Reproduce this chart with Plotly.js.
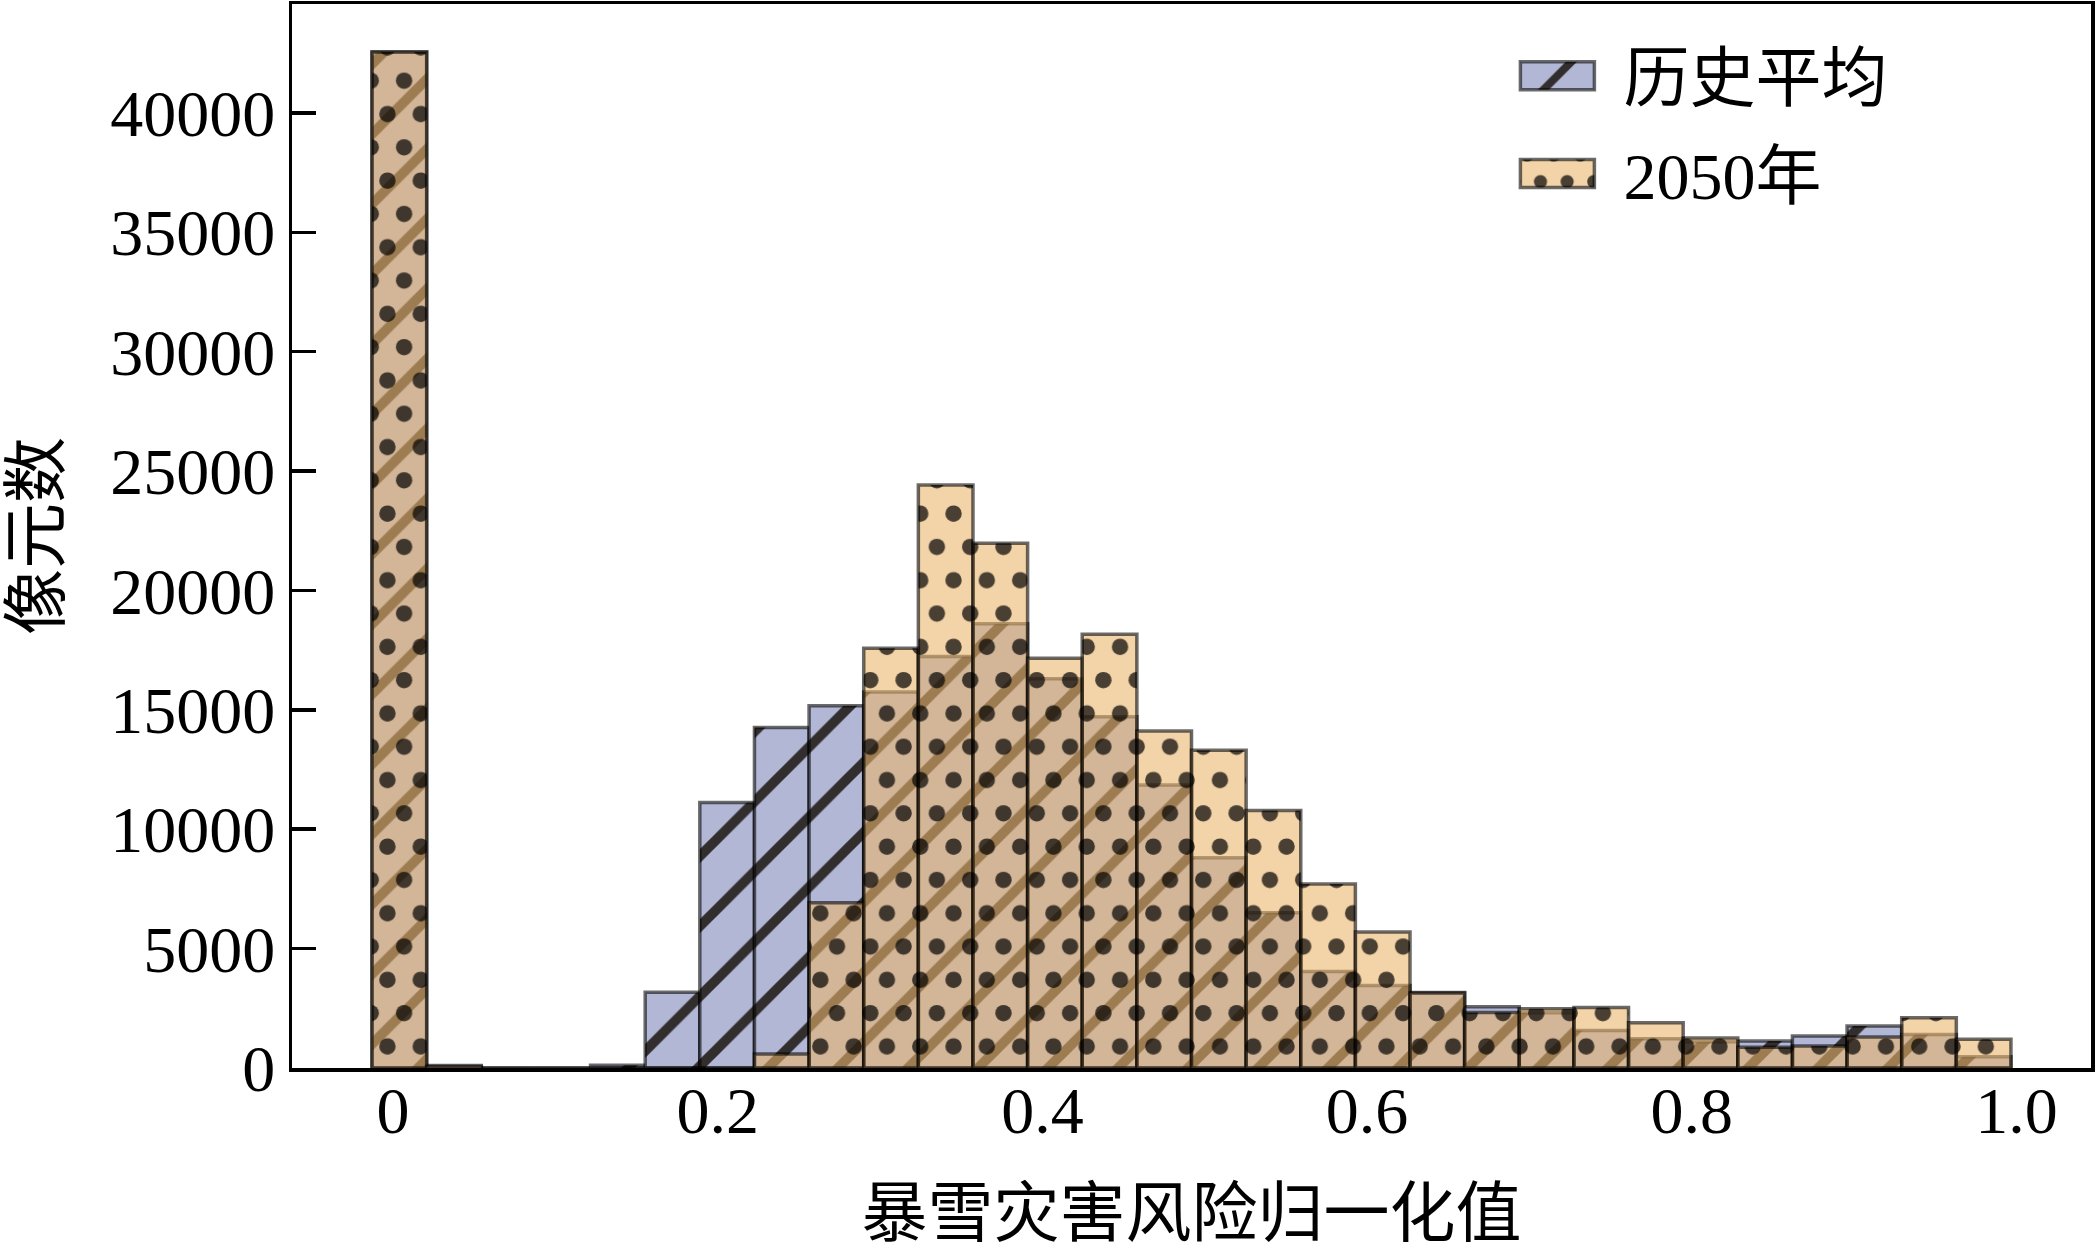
<!DOCTYPE html>
<html>
<head>
<meta charset="utf-8">
<script src="https://cdn.plot.ly/plotly-3.0.1.min.js"></script>
<style>
html,body{margin:0;padding:0;background:#fff;}
#chart{width:2097px;height:1250px;}
</style>
</head>
<body>
<div id="chart"></div>
<script>
// ---- data ----
const seriesNames = ['历史平均', '2050年'];
const binStart = -0.0129;      // left edge of first bin (axis units)
const binWidth = 0.03365;      // width of every bin
const histCounts = [42550, 100, 0, 0, 120, 3170, 11120, 14260, 15170, 15750,
                    17230, 18600, 16300, 14710, 11850, 8800, 6500, 4040, 3450, 3160,
                    2560, 2310, 1570, 1230, 1100, 1130, 1340, 1760, 1400, 475];
const futureCounts = [42550, 60, 0, 0, 0, 0, 0, 590, 6920, 17580,
                      24420, 21980, 17160, 18170, 14110, 13310, 10780, 7710, 5700, 3140,
                      2320, 2480, 2530, 1900, 1260, 870, 920, 1300, 2100, 1200];
const xTickVals = [0, 0.2, 0.4, 0.6, 0.8, 1.0];
const xTickText = ['0', '0.2', '0.4', '0.6', '0.8', '1.0'];
const yTickVals = [0, 5000, 10000, 15000, 20000, 25000, 30000, 35000, 40000];
const yTickText = ['0', '5000', '10000', '15000', '20000', '25000', '30000', '35000', '40000'];
const xTitle = '暴雪灾害风险归一化值';
const yTitle = '像元数';

const binCenters = histCounts.map((_, i) => binStart + binWidth * (i + 0.5));

const FONT = "'Liberation Serif', 'Times New Roman', 'Noto Sans CJK SC', serif";
const edge = {color: 'rgba(0,0,0,0.58)', width: 3.5};

const traces = [
  {
    type: 'bar', name: seriesNames[0], legendgroup: 'g1', x: binCenters, y: histCounts, width: binWidth,
    marker: {
      color: '#b2b7d6', line: edge,
      pattern: {shape: '/', bgcolor: '#b2b7d6', fgcolor: '#332e2e', fgopacity: 1,
                size: 49.5, solidity: 0.2, fillmode: 'replace'}
    },
    hoverinfo: 'skip'
  },
  {
    type: 'bar', name: seriesNames[1], legendgroup: 'g2', x: binCenters, y: futureCounts, width: binWidth,
    marker: {
      color: 'rgba(234,181,107,0.58)', line: edge,
      pattern: {shape: '.', bgcolor: 'rgba(234,181,107,0.58)', fgcolor: '#000000', fgopacity: 0.7,
                size: 33.3, solidity: 0.19, fillmode: 'replace'}
    },
    hoverinfo: 'skip'
  }
];

const layout = {
  width: 2097, height: 1250,
  margin: {l: 292, r: 5.5, t: 4, b: 182, pad: 0},
  paper_bgcolor: '#ffffff', plot_bgcolor: '#ffffff',
  barmode: 'overlay', bargap: 0,
  font: {family: FONT, size: 66, color: '#000'},
  showlegend: true,
  legend: {
    x: 0.6667, y: 0.979, xanchor: 'left', yanchor: 'top',
    bgcolor: 'rgba(0,0,0,0)', borderwidth: 0,
    font: {family: FONT, size: 66, color: '#000'},
    itemwidth: 122, tracegroupgap: 9, traceorder: 'grouped'
  },
  xaxis: {
    range: [-0.0622, 1.0459], autorange: false,
    tickvals: xTickVals, ticktext: xTickText,
    ticks: '', showgrid: false, zeroline: false,
    showline: true, mirror: true, linewidth: 3.5, linecolor: '#000',
    ticklabelstandoff: -18,
    tickfont: {family: FONT, size: 66, color: '#000'},
    title: {text: xTitle, font: {family: FONT, size: 66, color: '#000'}, standoff: 58}
  },
  yaxis: {
    range: [0, 44560], autorange: false,
    tickvals: yTickVals, ticktext: yTickText,
    ticks: 'inside', ticklen: 24, tickwidth: 3.5, tickcolor: '#000',
    showgrid: false, zeroline: false,
    showline: true, mirror: true, linewidth: 3.5, linecolor: '#000',
    tickfont: {family: FONT, size: 66, color: '#000'},
    title: {text: yTitle, font: {family: FONT, size: 66, color: '#000'}, standoff: 75}
  }
};

// staggered dot rows (like the reference texture); idempotent
function stagger(p) {
  const circles = p.querySelectorAll('circle');
  if (!circles.length) return;
  const c = circles[0];
  for (let k = 1; k < circles.length; k++) circles[k].remove();
  const w = parseFloat(p.getAttribute('width'));
  const h = 2 * w;
  p.setAttribute('height', h + 'px');
  const rect = p.querySelector('rect');
  if (rect) rect.setAttribute('height', h + 'px');
  const pts = [[0.366 * w, 0.303 * w], [0.866 * w, 1.303 * w], [-0.134 * w, 1.303 * w]];
  c.setAttribute('cx', pts[0][0]); c.setAttribute('cy', pts[0][1]);
  for (let k = 1; k < pts.length; k++) {
    const cc = c.cloneNode(true);
    cc.setAttribute('cx', pts[k][0]); cc.setAttribute('cy', pts[k][1]);
    p.appendChild(cc);
  }
}

function restyleTextures() {
  const root = document.getElementById('chart');
  const pats = [...root.querySelectorAll('pattern')];
  pats.filter(p => p.id.indexOf('-legend-') < 0).forEach(stagger);
  // legend swatches use the same texture scale as the bars
  pats.filter(p => p.id.indexOf('-legend-') >= 0).forEach(lp => {
    const main = document.getElementById(lp.id.replace('-legend-', '-'));
    if (!main) return;
    lp.setAttribute('width', main.getAttribute('width'));
    lp.setAttribute('height', main.getAttribute('height'));
    while (lp.firstChild) lp.removeChild(lp.firstChild);
    [...main.childNodes].forEach(n => lp.appendChild(n.cloneNode(true)));
  });
  // larger legend swatches
  root.querySelectorAll('.legendpoints path').forEach(el => el.setAttribute('d', 'M37,14H-37V-14H37Z'));
}

const gd = document.getElementById('chart');
Plotly.newPlot(gd, traces, layout, {staticPlot: true, displayModeBar: false}).then(() => {
  restyleTextures();
  gd.on('plotly_afterplot', restyleTextures);
  [30, 150, 400].forEach(t => setTimeout(restyleTextures, t));
});
</script>
</body>
</html>
